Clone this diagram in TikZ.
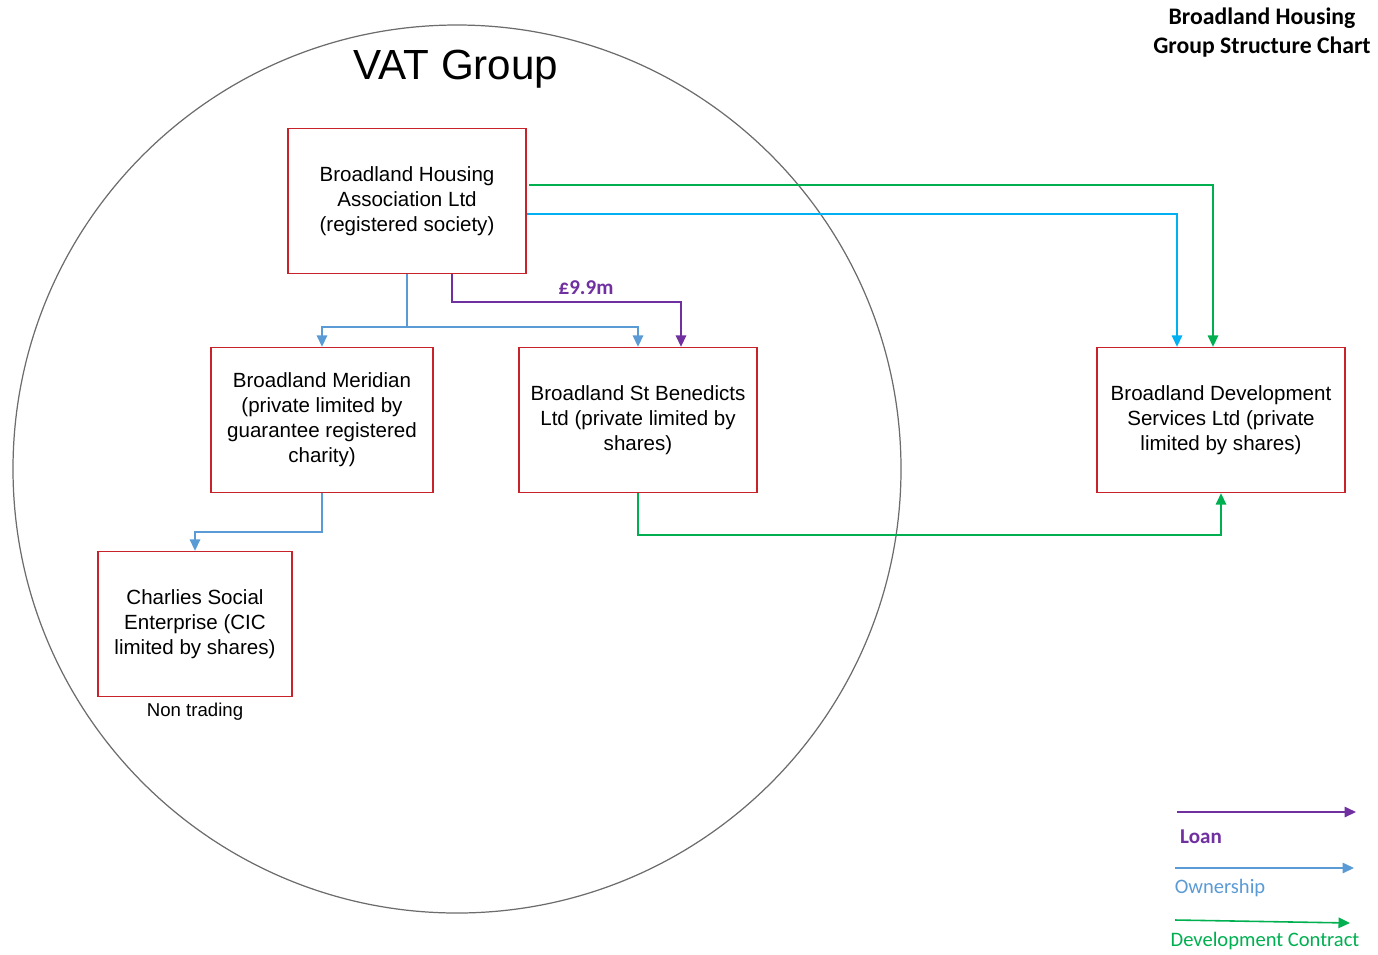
\documentclass[tikz,border=0pt]{standalone}
\usepackage{fontspec}
\setmainfont{Liberation Sans}
\newfontfamily\calibri{Carlito}
\usepackage{tikz}
\usetikzlibrary{arrows.meta,calc}

\definecolor{boxred}{HTML}{C8232B}
\definecolor{loancol}{HTML}{7030A0}
\definecolor{owncol}{HTML}{5B9BD5}
\definecolor{skycol}{HTML}{00B0F0}
\definecolor{devcol}{HTML}{00B050}

\begin{document}
\begin{tikzpicture}[
  x=0.02cm, y=-0.02cm,
  >={Triangle[length=2.3mm,width=2.1mm]},
  every node/.style={font=\fontsize{11.7}{14.2}\selectfont},
  entitybox/.style={draw=boxred, fill=white, line width=0.8pt, minimum height=2.9cm, align=center, inner sep=2pt},
  loanline/.style={->, draw=loancol, line width=0.9pt},
  ownline/.style={->, draw=owncol, line width=0.9pt},
  skyline/.style={->, draw=skycol, line width=0.9pt},
  devline/.style={->, draw=devcol, line width=0.9pt},
  legendtext/.style={font=\calibri\fontsize{11.7}{14}\selectfont}
]
\useasboundingbox (0,0) rectangle (1378,954);

% VAT group boundary
\draw[gray!85!black, line width=0.7pt] (457,469) circle [radius=444];
\node[font=\fontsize{24}{28}\selectfont] (vat) at (456,69) {VAT Group};

% title
\node[font=\calibri\bfseries\fontsize{13.5}{16.5}\selectfont, align=center] (title) at (1262,33) {Broadland Housing\\Group Structure Chart};

% entities
\node[entitybox, minimum width=4.76cm] (bha) at (407,201) {Broadland Housing\\Association Ltd\\(registered society)};
\node[entitybox, minimum width=4.44cm] (mer) at (322,420) {Broadland Meridian\\(private limited by\\guarantee registered\\charity)};
\node[entitybox, minimum width=4.76cm] (stb) at (638,420) {Broadland St Benedicts\\Ltd (private limited by\\shares)};
\node[entitybox, minimum width=4.96cm] (bds) at (1221,420) {Broadland Development\\Services Ltd (private\\limited by shares)};
\node[entitybox, minimum width=3.88cm] (cse) at (195,624) {Charlies Social\\Enterprise (CIC\\limited by shares)};
\node[font=\fontsize{10.6}{13}\selectfont] (nontrade) at (195,712) {Non trading};

% ownership
\coordinate (ownsplit) at (407,327);
\draw[ownline] (bha.south) -- (ownsplit) -| (mer.north);
\draw[ownline] (ownsplit) -| (stb.north);
\draw[ownline] (mer.south) -- ++(0,39) -| (cse.north);

% loan
\draw[loanline] ($(bha.south)+(45,0)$) -- ++(0,28) -| ($(stb.north)+(43,0)$);
\node[text=loancol, font=\calibri\bfseries\fontsize{12}{14}\selectfont] (loanamt) at (586,288) {£9.9m};

% links to development services
\draw[skyline] ($(bha.east)+(0,13)$) -| ($(bds.north)+(-44,0)$);
\draw[devline] ($(bha.east)+(2,-16)$) -| ($(bds.north)+(-8,0)$);
\draw[devline] (stb.south) -- ++(0,42) -| (bds.south);

% legend
\coordinate (loanA) at (1177,812);
\coordinate (loanB) at (1356,812);
\coordinate (ownA) at (1175,868);
\coordinate (ownB) at (1354,868);
\coordinate (devA) at (1175,920);
\coordinate (devB) at (1350,923);
\draw[loanline] (loanA) -- (loanB);
\draw[ownline] (ownA) -- (ownB);
\draw[devline] (devA) -- (devB);
\node[legendtext, text=loancol, font=\calibri\bfseries\fontsize{12}{14}\selectfont] (loanlbl) at (1201,837) {Loan};
\node[legendtext, text=owncol] (ownlbl) at (1220,888) {Ownership};
\node[legendtext, text=devcol] (devlbl) at (1265,941) {Development Contract};
\end{tikzpicture}
\end{document}
